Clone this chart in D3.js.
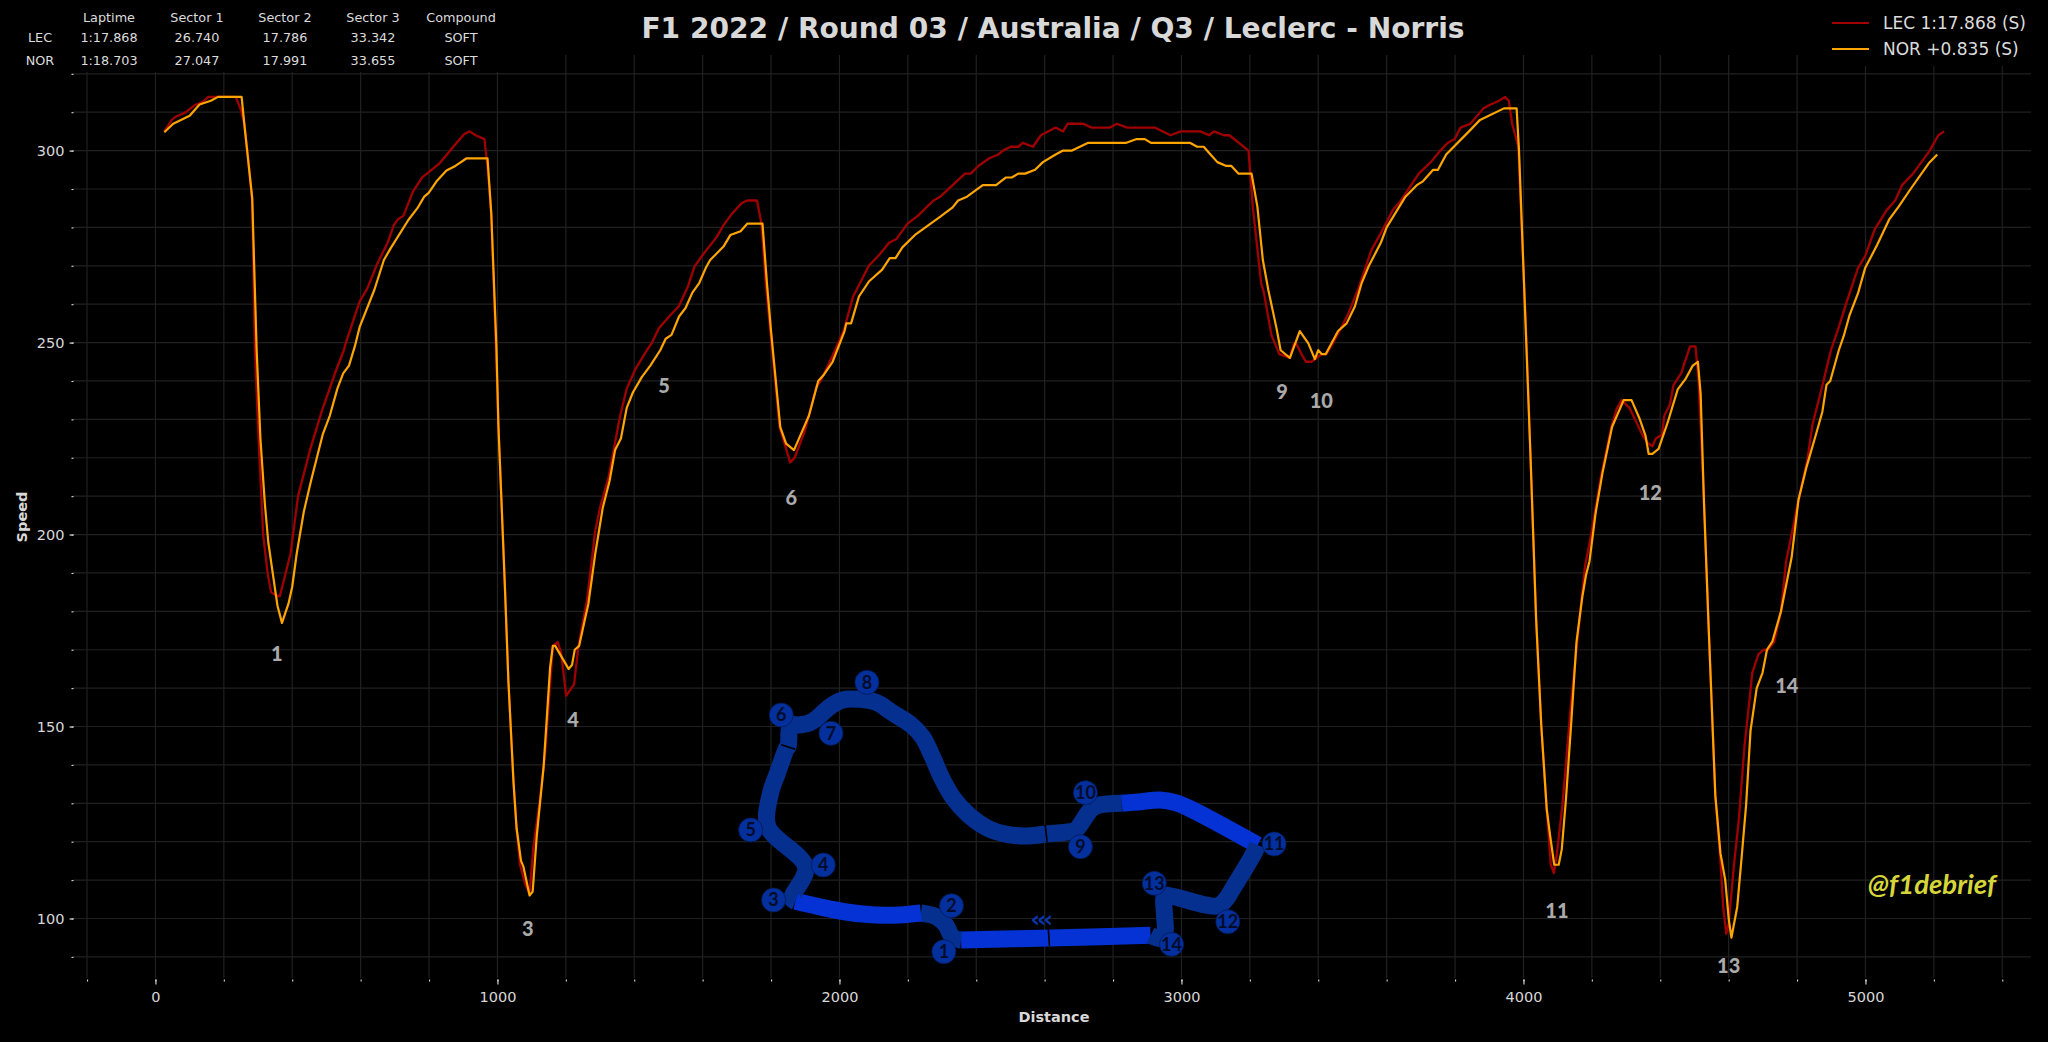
<!DOCTYPE html>
<html>
<head>
<meta charset="utf-8">
<title>F1 2022 Australia Q3</title>
<script src="https://cdn.jsdelivr.net/npm/d3@7"></script>
<style>
  html, body { margin: 0; padding: 0; background: #000; }
  svg { display: block; }
  text { font-family: "DejaVu Sans", sans-serif; }
</style>
</head>
<body>
<svg id="chart" width="2048" height="1042"></svg>
<script>
const lecDist = [26,48,61,87,114,140,155,235,250,260,271,283,291,300,315,328,338,356,364,395,417,452,486,525,551,557,597,619,649,679,697,710,725,753,780,831,871,903,919,936,962,973,982,996,1003,1013,1022,1032,1047,1056,1066,1081,1094,1105,1125,1140,1162,1176,1186,1201,1224,1237,1262,1286,1300,1325,1359,1378,1403,1437,1452,1472,1504,1530,1557,1576,1600,1642,1661,1687,1714,1730,1759,1772,1785,1798,1825,1856,1869,1898,1933,1945,1982,2012,2040,2086,2118,2145,2167,2199,2229,2275,2295,2367,2384,2406,2438,2465,2478,2501,2523,2536,2566,2589,2632,2654,2667,2713,2736,2791,2811,2841,2922,2968,2998,3055,3081,3095,3124,3140,3196,3209,3233,3241,3263,3286,3317,3329,3335,3351,3364,3380,3410,3424,3444,3468,3488,3517,3555,3583,3618,3639,3694,3729,3757,3778,3799,3816,3845,3883,3904,3929,3946,3957,3967,3985,4009,4021,4037,4052,4068,4080,4089,4098,4114,4139,4160,4180,4198,4226,4257,4272,4287,4310,4349,4364,4377,4387,4405,4412,4428,4439,4461,4487,4503,4512,4523,4528,4541,4561,4576,4584,4593,4600,4615,4630,4646,4661,4669,4687,4702,4715,4733,4753,4768,4784,4799,4830,4845,4876,4899,4922,4943,4978,4999,5027,5062,5087,5107,5139,5188,5213,5230];
const lecSpeed = [305,308,308.9,309.9,311.8,312.8,314,314,310.6,307,298,287,248,228,200,190,185,184,184,195,210,222,232,242,248,250,260.7,264,270.6,276,280.6,282.2,283,289.3,293,296.7,301,304.3,305,304,303,294,283,248,228,206,186,162,135.5,123.5,114,109,106.5,118.5,131.5,143.5,171,172,169.4,158,161,171,183,201,207,215,231,238,243,248,250,253.7,257,259.4,264.6,269.8,272.8,277.6,280.6,283.7,286.3,287,287,281,265,253,228,218.8,220,226.8,238.5,240,247,253,262,270,273,276,277,281,283,287,288,294,294,296,298,299,300,301,301,302,301,304,306,305,307,307,306,306,307,306,306,304,305,305,304,305,304,304,300,285,265.5,263,252,247,246,249.8,249.8,247,245,245,247,247,250,254,257.6,264,274,278.5,284.5,286.7,294,297,300,302,303,306,307,311,312,313,314,313,307,301,250,219.4,178,150.4,128.5,114,111.8,117,129.6,156,174.5,191.8,200,214.8,228,232.6,235,233,225.7,223.8,223,225,226,231,233.8,239,242,249,249,240,219,208,177,132,115,103,96,98.6,113.5,126,144.6,157,164,168.8,170,170,172,180,193,200,206.7,219.4,228.6,239.5,248,254,260,269.4,272.5,279.5,284.5,287,291,294,300,304,305];

const norDist = [26,52,100,129,162,183,252,261,283,296,307,320,330,352,357,370,389,400,413,434,455,489,510,532,549,566,583,597,640,668,688,740,766,786,799,822,851,877,910,971,982,997,1003,1013,1022,1032,1047,1056,1069,1076,1094,1103,1115,1135,1154,1162,1169,1208,1218,1226,1239,1256,1266,1286,1308,1328,1344,1361,1378,1396,1422,1447,1476,1492,1509,1531,1550,1570,1590,1609,1622,1661,1681,1711,1731,1775,1788,1800,1827,1844,1867,1911,1938,1955,1980,2015,2020,2034,2057,2086,2125,2147,2164,2184,2223,2295,2331,2347,2373,2419,2458,2487,2504,2523,2543,2572,2595,2632,2654,2680,2726,2837,2869,2893,2911,3026,3046,3065,3085,3105,3131,3146,3167,3205,3222,3238,3254,3278,3290,3317,3346,3371,3390,3400,3410,3422,3458,3483,3507,3527,3548,3583,3600,3655,3688,3706,3736,3750,3774,3845,3873,3897,3943,3980,3987,4009,4021,4037,4052,4068,4078,4090,4103,4112,4124,4139,4155,4172,4183,4193,4211,4231,4259,4293,4316,4339,4357,4366,4377,4395,4421,4451,4475,4495,4510,4518,4528,4541,4561,4576,4590,4600,4608,4625,4638,4651,4664,4682,4699,4712,4728,4753,4784,4804,4828,4856,4874,4886,4897,4922,4936,4953,4978,4999,5034,5069,5097,5132,5185,5210];
const norSpeed = [304.8,307,309.1,312,313,314,314,306,287.6,248,225,208,198,184.4,181.4,177,182,186.4,195,206,214,226,231,238,242,244,249,254,263.7,271.5,274.6,282,285,288,289,292,294.8,296,298,298,283.7,249,228,206,186,162,135.5,123.5,115,113.5,106,107,121.5,139.5,165.4,171,171,165,166,170,171,178,182,195,207,214,222,225,233,237,241,244,248,251,252,256.8,259,263,265.5,269.4,271.5,275,278,279,281,281,265.5,253,228,223.7,222,231,240,241.7,245,253,255,255,262,265.9,269,272,272,274.8,278.2,282.8,285.2,287,288,291,291,293,293,294,294,295,297,299,300,300,302,302,303,303,302,302,301,301,299,297,296,296,294,294,285.4,271.5,263.7,253.7,248,246,253,249.8,245.7,248,247,247,253,255,259.4,265.5,270,276,280,288,291,292,295,295,299,305.4,308,309,311,311,300,248,219.4,178,150.4,128.5,121.6,114,114,118,130.8,150,172,183.7,189.5,193,205.6,216,228,235,235,230.3,225.7,221,221,222.3,229,237.8,240.7,244,245,236.7,208,177,132,117,110,100,95,103,116,129.6,149,160,164,170,172.2,180,194,209,217.7,226.3,232,239,240,248,251.6,257,262.8,269.4,275.4,282,285.4,290,296.7,299];

const cornerLabels = ["1","3","4","5","6","9","10","11","12","13","14"];
const cornerDist = [355,1089,1221,1487,1859,3294,3409,4098,4371,4600,4770];
const cornerSpeed = [169,97.3,151.8,238.8,209.7,237.2,234.8,102,210.8,87.7,160.6];

const tableColumns = ["Laptime","Sector 1","Sector 2","Sector 3","Compound"];
const tableDrivers = ["LEC","NOR"];
const lecTimes = ["1:17.868","26.740","17.786","33.342","SOFT"];
const norTimes = ["1:18.703","27.047","17.991","33.655","SOFT"];
const legendLabels = ["LEC 1:17.868 (S)","NOR +0.835 (S)"];

// track map, in its own map units. one run per colour band
const trackRuns = [
  { band: "fast", x: [112.5,86,63], y: [16.4,15.6,15] },
  { band: "slow", x: [63,60.8,59,56.5,52.5], y: [15,15.8,19.5,22,23.1] },
  { band: "fast", x: [52.5,48,43,38,33,27,19.7], y: [23.1,22.6,22.4,22.7,23.4,24.7,26.6] },
  { band: "slow", x: [19.7,18.8,22.4,12.5,13.2,15,17.5,17.8,18.5,20.5,23.5,25.8,28.5,32,36.5,41,45,50,53,55.5,58,61,65,70,75,80,85.2], y: [26.6,27.5,36.8,49,59,65,72.7,73,79.5,79.5,80.2,82,84.8,87,87.2,86.2,83.2,79.5,75.8,70,63.5,57.5,52.5,48.5,46.7,46.2,46.8] },
  { band: "slow", x: [85.2,91.5,93,96.8,98.5,105], y: [46.8,47.5,48,54,55.3,56] },
  { band: "fast", x: [105,110,115,119,123,140.5], y: [56,56.5,57,56.2,54.3,43.5] },
  { band: "slow", x: [140.5,139.5,133.5,132.2,130,117.5,116.2,116.2,116.3,115,112.5], y: [43.5,41,29.5,27.2,25.2,28.3,28.2,22,17.5,15.5,16.4] }
];
const bandColors = { fast: "#0432d4", slow: "#05308f" };

// thin black cuts over the track
const trackCuts = [
  { x: [85.8,86.1], y: [18.4,13.2] },
  { x: [85,85.5], y: [49.5,44.3] },
  { x: [16,19.7], y: [73.6,72.2] }
];

const turnLabels = ["1","2","3","4","5","6","7","8","9","10","11","12","13","14"];
const turnX = [58.5,60.5,14,27,8,16,29,38.4,94.2,95.5,144.8,132.7,113.5,118];
const turnY = [11.5,25.3,27,37.5,48,82.5,77,92.3,43,59.2,43.8,20.5,32,13.7];

const width = 2048;
const height = 1042;
const svg = d3.select("#chart");

const x = d3.scaleLinear().domain([-241, 5484]).range([73, 2031]);
const y = d3.scaleLinear().domain([84.5, 324.9]).range([978, 55]);
const mapX = d3.scaleLinear().domain([0, 156.8]).range([720, 1320]);
const mapY = d3.scaleLinear().domain([0, 102]).range([990, 650]);

svg.append("rect").attr("width", width).attr("height", height).attr("fill", "#000");

// grid
const xMinor = d3.range(-200, 5401, 200);
const yMinor = d3.range(90, 321, 10);
const gridColor = "#202020";

svg.append("g").selectAll("line").data(xMinor).join("line")
  .attr("x1", (d) => x(d)).attr("x2", (d) => x(d))
  .attr("y1", 55).attr("y2", 978)
  .attr("stroke", gridColor).attr("stroke-width", 1.2);

svg.append("g").selectAll("line").data(yMinor).join("line")
  .attr("x1", 73).attr("x2", 2031)
  .attr("y1", (d) => y(d)).attr("y2", (d) => y(d))
  .attr("stroke", gridColor).attr("stroke-width", 1.2);

// table and legend sit on black boxes that hide the top of the grid
svg.append("rect").attr("x", 0).attr("y", 0).attr("width", 525).attr("height", 72).attr("fill", "#000");
svg.append("rect").attr("x", 1825).attr("y", 0).attr("width", 223).attr("height", 66).attr("fill", "#000");

// axes
const tickColor = "#dddddd";

function styleAxis(g) {
  g.select(".domain").remove();
  g.selectAll("line").attr("stroke", tickColor).attr("stroke-width", 1.1);
  g.selectAll("text").attr("fill", "#d8d8d8").style("font-size", "14.5px");
}

svg.append("g").attr("transform", "translate(0,979.5)")
  .call(d3.axisBottom(x).tickValues(xMinor).tickSize(2).tickFormat(""))
  .call(styleAxis);
svg.append("g").attr("transform", "translate(0,979.5)")
  .call(d3.axisBottom(x).tickValues(d3.range(0, 5001, 1000)).tickSize(5).tickPadding(7).tickFormat(d3.format("d")))
  .call(styleAxis);
svg.append("g").attr("transform", "translate(73.5,0)")
  .call(d3.axisLeft(y).tickValues(yMinor).tickSize(2).tickFormat(""))
  .call(styleAxis);
svg.append("g").attr("transform", "translate(73.5,0)")
  .call(d3.axisLeft(y).tickValues(d3.range(100, 301, 50)).tickSize(4).tickPadding(5).tickFormat(d3.format("d")))
  .call(styleAxis);

svg.append("text").attr("x", 1054).attr("y", 1022).attr("text-anchor", "middle")
  .attr("fill", "#d8d8d8").attr("font-weight", "bold").style("font-size", "14.5px").text("Distance");
svg.append("text").attr("transform", "translate(27,517) rotate(-90)").attr("text-anchor", "middle")
  .attr("fill", "#d8d8d8").attr("font-weight", "bold").style("font-size", "14.5px").text("Speed");

// speed traces
const line = d3.line().x((d) => x(d[0])).y((d) => y(d[1]));
const lecPoints = d3.zip(lecDist, lecSpeed);
const norPoints = d3.zip(norDist, norSpeed);

svg.append("path").attr("d", line(lecPoints)).attr("fill", "none")
  .attr("stroke", "#a00000").attr("stroke-width", 2.3).attr("stroke-linejoin", "round");
svg.append("path").attr("d", line(norPoints)).attr("fill", "none")
  .attr("stroke", "#ffa500").attr("stroke-width", 2.2).attr("stroke-linejoin", "round");

// corner numbers
svg.append("g").selectAll("text").data(cornerLabels).join("text")
  .attr("x", (d, i) => x(cornerDist[i]))
  .attr("y", (d, i) => y(cornerSpeed[i]))
  .attr("dy", "0.36em")
  .attr("text-anchor", "middle")
  .attr("fill", "#aaaaaa")
  .attr("font-weight", "900")
  .style("font-family", "Lato")
  .style("font-size", "20px")
  .text((d) => d);

// track map
const mapLine = d3.line().x((d) => mapX(d[0])).y((d) => mapY(d[1])).curve(d3.curveCatmullRom.alpha(0.5));
const cutLine = d3.line().x((d) => mapX(d[0])).y((d) => mapY(d[1]));

trackRuns.forEach((run) => {
  svg.append("path")
    .attr("d", mapLine(d3.zip(run.x, run.y)))
    .attr("fill", "none")
    .attr("stroke", bandColors[run.band])
    .attr("stroke-width", 17)
    .attr("stroke-linejoin", "miter");
});

trackCuts.forEach((cut) => {
  svg.append("path")
    .attr("d", cutLine(d3.zip(cut.x, cut.y)))
    .attr("stroke", "#000").attr("stroke-width", 1.6);
});

svg.append("text").attr("x", mapX(83.7)).attr("y", mapY(21.3)).attr("text-anchor", "middle")
  .attr("dy", "0.36em").attr("fill", "#0a36b0").attr("font-weight", "bold")
  .attr("letter-spacing", "-3px").style("font-size", "23px").text("‹‹‹");

const turns = svg.append("g").selectAll("g").data(turnLabels).join("g")
  .attr("transform", (d, i) => `translate(${mapX(turnX[i])},${mapY(turnY[i])})`);
turns.append("circle").attr("r", 12).attr("fill", "#04309e").attr("stroke", "#021a55").attr("stroke-width", 0.8);
turns.append("text").attr("text-anchor", "middle").attr("dy", "0.36em")
  .attr("fill", "#010c2a").attr("font-weight", "bold")
  .style("font-family", "Lato").style("font-size", "18px").text((d) => d);

// watermark
svg.append("text").attr("x", x(5007)).attr("y", y(106.5)).attr("text-anchor", "start")
  .attr("fill", "#d6d63a").attr("font-weight", "bold").attr("font-style", "italic")
  .style("font-family", "Lato").style("font-size", "27.5px").text("@f1debrief");

// lap table
const columnX = [109, 197, 285, 373, 461];
const rowY = [17, 37, 60];

function tableText(px, py, label) {
  svg.append("text").attr("x", px).attr("y", py).attr("dy", "0.36em")
    .attr("text-anchor", "middle").attr("fill", "#dcdcdc")
    .style("font-size", "12.8px").text(label);
}

tableColumns.forEach((c, i) => tableText(columnX[i], rowY[0], c));
tableDrivers.forEach((d, i) => tableText(40, rowY[i + 1], d));
lecTimes.forEach((t, i) => tableText(columnX[i], rowY[1], t));
norTimes.forEach((t, i) => tableText(columnX[i], rowY[2], t));

// title
svg.append("text").attr("x", 1053).attr("y", 38).attr("text-anchor", "middle")
  .attr("fill", "#d8d8d8").attr("font-weight", "bold").style("font-size", "28.1px")
  .text("F1 2022 / Round 03 / Australia / Q3 / Leclerc - Norris");

// legend
const legendColors = ["#a00000", "#ffa500"];
const legendY = [23, 49];

legendLabels.forEach((label, i) => {
  svg.append("line").attr("x1", 1832).attr("x2", 1869).attr("y1", legendY[i]).attr("y2", legendY[i])
    .attr("stroke", legendColors[i]).attr("stroke-width", 2.2);
  svg.append("text").attr("x", 1883).attr("y", legendY[i]).attr("dy", "0.36em")
    .attr("fill", "#dcdcdc").style("font-size", "17px").text(label);
});
</script>
</body>
</html>
